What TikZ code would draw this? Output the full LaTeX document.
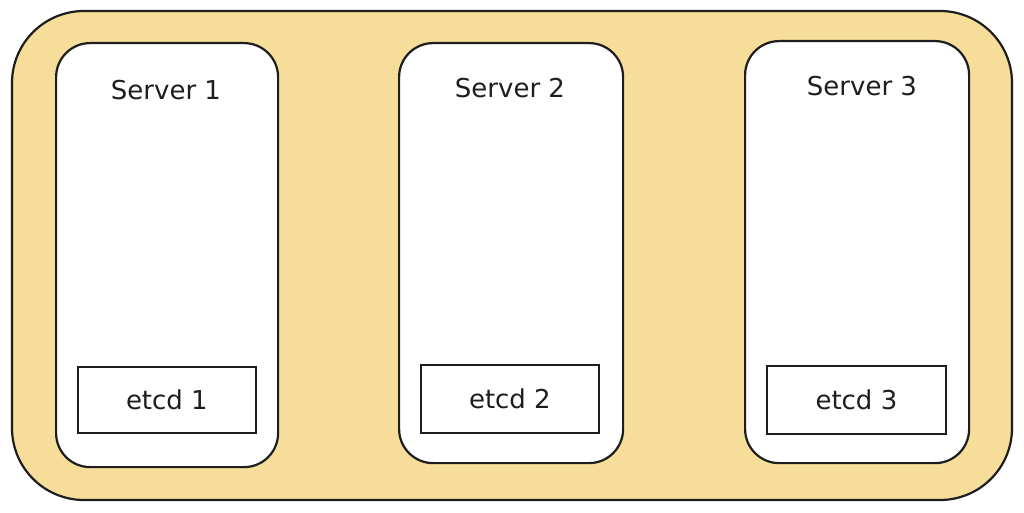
\documentclass[tikz,border=0pt]{standalone}
\usepackage{fontspec}
\setmainfont{DejaVu Sans}
\definecolor{hatch}{HTML}{F6DD9A}
\definecolor{ink}{HTML}{1E1E1E}
\tikzset{
  outerbox/.style={draw=ink, line width=2.2pt, fill=hatch, rounded corners=72pt},
  serverbox/.style={draw=ink, line width=2.2pt, fill=white, rounded corners=34pt},
  etcdbox/.style={draw=ink, line width=1.8pt, fill=white},
  lbl/.style={font=\fontsize{26}{30}\selectfont, text=ink, inner sep=0pt}
}
\begin{document}
\begin{tikzpicture}[x=1pt,y=-1pt]
\useasboundingbox (0,0) rectangle (1024,513);
\fill[white] (0,0) rectangle (1024,513);
\draw[outerbox] (12,11) rectangle (1012,500);

\node[serverbox, minimum width=222pt, minimum height=424pt, anchor=north west] (s1) at (55,42) {};
\node[serverbox, minimum width=224pt, minimum height=420pt, anchor=north west] (s2) at (398,42) {};
\node[serverbox, minimum width=224pt, minimum height=422pt, anchor=north west] (s3) at (744,40) {};

\node[lbl] (t1) at (166,90) {Server 1};
\node[lbl] (t2) at (510,88) {Server 2};
\node[lbl] (t3) at (862,86) {Server 3};

\node[etcdbox, minimum width=178pt, minimum height=66pt, anchor=north west] (e1) at (77,366) {};
\node[etcdbox, minimum width=178pt, minimum height=68pt, anchor=north west] (e2) at (420,364) {};
\node[etcdbox, minimum width=179pt, minimum height=68pt, anchor=north west] (e3) at (766,365) {};

\node[lbl] at (e1.center) {etcd 1};
\node[lbl] at (e2.center) {etcd 2};
\node[lbl] at (e3.center) {etcd 3};
\end{tikzpicture}
\end{document}
